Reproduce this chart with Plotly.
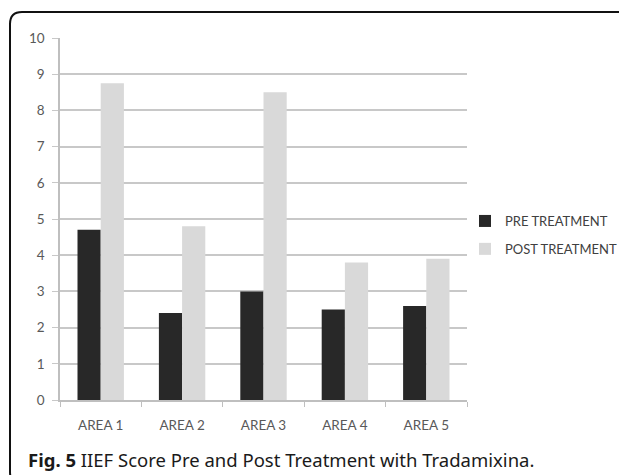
import plotly.graph_objects as go

# data
areas = ["AREA 1", "AREA 2", "AREA 3", "AREA 4", "AREA 5"]
pre_treatment = [4.7, 2.4, 3.0, 2.5, 2.6]
post_treatment = [8.75, 4.8, 8.5, 3.8, 3.9]
y_ticks = [0, 1, 2, 3, 4, 5, 6, 7, 8, 9, 10]

# the page puts the figure 8px in from the top-left corner
OFF = 8
W, H = 627 - OFF, 475 - OFF
# plot area in the reference: x 60..467, y 38..400
L, R, T, B = 60 - OFF, 627 - 467, 38 - OFF, 475 - 400
PW, PH = W - L - R, H - T - B


def px_x(x):
    # reference pixel x -> paper coordinate
    return (x - OFF - L) / PW


def px_y(y):
    return (H - B - (y - OFF)) / PH


TICK_FONT = dict(family="Lato, 'Open Sans', sans-serif", size=13.5, color="#595959")

fig = go.Figure()
fig.add_trace(go.Bar(
    x=areas, y=pre_treatment, name="PRE TREATMENT",
    marker=dict(color="#282828", line=dict(width=0)),
    legendgroup="a",
))
fig.add_trace(go.Bar(
    x=areas, y=post_treatment, name="POST TREATMENT",
    marker=dict(color="#d9d9d9", line=dict(width=0)),
    legendgroup="b",
))

fig.update_layout(
    width=W, height=H,
    margin=dict(l=L, r=R, t=T, b=B, autoexpand=False),
    paper_bgcolor="white",
    plot_bgcolor="white",
    barmode="group",
    bargap=0.43,
    bargroupgap=0,
    font=TICK_FONT,
    legend=dict(
        x=px_x(465), y=px_y(235), xanchor="left", yanchor="middle",
        font=dict(family="Lato, 'Open Sans', sans-serif", size=13, color="#404040"),
        traceorder="grouped", tracegroupgap=8,
        itemwidth=30, bgcolor="rgba(0,0,0,0)",
    ),
    xaxis=dict(
        showline=True, linecolor="#bfbfbf", linewidth=1.5,
        ticks="outside", tickson="boundaries", ticklen=5, tickcolor="#bfbfbf",
        tickfont=TICK_FONT, showgrid=False, ticklabelstandoff=12,
    ),
    yaxis=dict(
        range=[0, 10], tickvals=y_ticks,
        showline=True, linecolor="#bfbfbf", linewidth=1.5,
        ticks="outside", ticklen=6, tickcolor="#c8c8c8",
        showgrid=True, gridcolor="#c8c8c8", gridwidth=1.5,
        zeroline=False, tickfont=TICK_FONT, ticklabelstandoff=5,
    ),
)

# rounded frame around the figure (runs off the right and bottom edges)
x0, y0, x1, y1 = px_x(10), px_y(12), px_x(645), px_y(484)
r, ry = 12 / PW, 12 / PH
frame = (
    f"M {x0},{y1 + ry} L {x0},{y0 - ry} Q {x0},{y0} {x0 + r},{y0} "
    f"L {x1 - r},{y0} Q {x1},{y0} {x1},{y0 - ry} L {x1},{y1 + ry} "
    f"Q {x1},{y1} {x1 - r},{y1} L {x0 + r},{y1} Q {x0},{y1} {x0},{y1 + ry} Z"
)
fig.add_shape(type="path", path=frame, xref="paper", yref="paper",
              line=dict(color="#111111", width=2), fillcolor="rgba(0,0,0,0)",
              layer="above")

fig.add_annotation(
    x=px_x(26), y=px_y(459), xref="paper", yref="paper",
    xanchor="left", yanchor="middle", showarrow=False,
    text="<b>Fig. 5</b> IIEF Score Pre and Post Treatment with Tradamixina.",
    font=dict(family="'Noto Sans', sans-serif", size=18.5, color="#1a1a1a"),
)

fig.write_html("out.html")
